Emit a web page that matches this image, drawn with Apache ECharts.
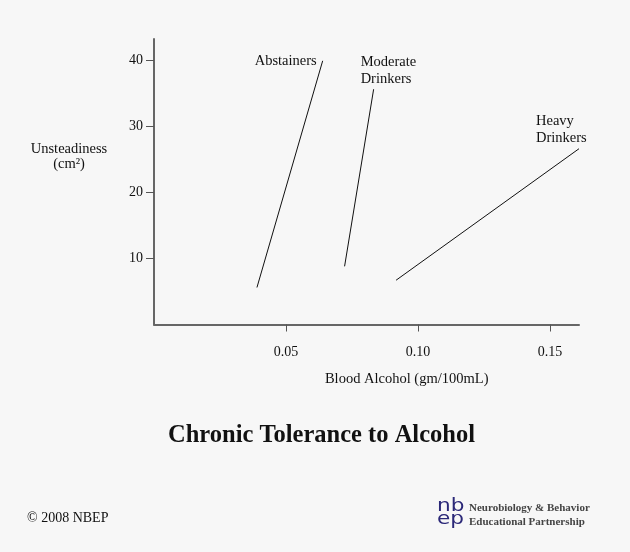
<!DOCTYPE html>
<html>
<head>
<meta charset="utf-8">
<script src="https://cdn.jsdelivr.net/npm/echarts@6/dist/echarts.min.js"></script>
<style>
html,body{margin:0;padding:0;background:#f7f7f7;}
#chart{width:630px;height:552px;}
</style>
</head>
<body>
<div id="chart"></div>
<script>
// Data
const seriesNames = ['Abstainers', 'Moderate\nDrinkers', 'Heavy\nDrinkers'];
const abstainers = [[0.0390, 5.6], [0.0639, 39.9]];
const moderate = [[0.0722, 8.8], [0.0832, 35.6]];
const heavy = [[0.0917, 6.7], [0.1610, 26.6]];
const xTicks = [0.05, 0.10, 0.15];
const yTicks = [10, 20, 30, 40];
const xTickLabels = ['0.05', '0.10', '0.15'];
const yTickLabels = ['10', '20', '30', '40'];
const titleText = 'Chronic Tolerance to Alcohol';
const xAxisTitle = 'Blood Alcohol (gm/100mL)';
const yAxisTitle = ['Unsteadiness', '(cm²)'];

const serif = '"Liberation Serif", "Times New Roman", serif';
const chart = echarts.init(document.getElementById('chart'));

function mkSeries(name, data, labelCfg) {
  return {
    type: 'line',
    name: name,
    clip: false,
    silent: true,
    symbol: 'circle',
    symbolSize: 0.01,
    itemStyle: { color: 'rgba(0,0,0,0)' },
    lineStyle: { color: '#111', width: 1 },
    emphasis: { disabled: true },
    animation: false,
    data: data.map((d, i) => {
      const item = { value: d };
      if (i === data.length - 1) {
        item.label = Object.assign({
          show: true,
          formatter: name,
          color: '#111',
          fontFamily: serif,
          fontSize: 14.5,
          lineHeight: 17
        }, labelCfg);
      } else {
        item.label = { show: false };
      }
      return item;
    })
  };
}

const option = {
  backgroundColor: '#f7f7f7',
  animation: false,
  grid: { left: 154, right: 51, top: 39, bottom: 227.5, containLabel: false },
  xAxis: {
    type: 'value',
    min: 0,
    max: 0.161,
    axisLine: { show: true, lineStyle: { color: '#666', width: 2 } },
    axisTick: { show: true, length: 7, customValues: xTicks, lineStyle: { color: '#555', width: 1 } },
    axisLabel: {
      customValues: xTicks,
      formatter: v => xTickLabels[xTicks.findIndex(t => Math.abs(t - v) < 1e-9)] || '',
      margin: 21,
      color: '#111', fontFamily: serif, fontSize: 14
    },
    splitLine: { show: false }
  },
  yAxis: {
    type: 'value',
    min: 0,
    max: 43.2,
    axisLine: { show: true, lineStyle: { color: '#666', width: 2 } },
    axisTick: { show: true, length: 8, customValues: yTicks, lineStyle: { color: '#555', width: 1 } },
    axisLabel: {
      customValues: yTicks,
      formatter: v => yTickLabels[yTicks.findIndex(t => Math.abs(t - v) < 1e-9)] || '',
      margin: 11,
      color: '#111', fontFamily: serif, fontSize: 14
    },
    splitLine: { show: false }
  },
  series: [
    mkSeries(seriesNames[0], abstainers, { position: 'left', distance: 6 }),
    mkSeries(seriesNames[1], moderate, { position: 'top', align: 'left', offset: [-13, 0], distance: 2 }),
    mkSeries(seriesNames[2], heavy, { position: 'top', align: 'left', offset: [-43, 0], distance: 2 })
  ],
  graphic: [
    { type: 'text', x: 321.5, y: 435.5, style: { text: titleText, fontFamily: serif, fontWeight: 'bold', fontSize: 24.5, fill: '#111', textAlign: 'center', textVerticalAlign: 'middle' } },
    { type: 'text', x: 406.7, y: 379, style: { text: xAxisTitle, fontFamily: serif, fontSize: 14.5, fill: '#111', textAlign: 'center', textVerticalAlign: 'middle' } },
    { type: 'text', x: 69, y: 149.5, style: { text: yAxisTitle[0], fontFamily: serif, fontSize: 14.5, fill: '#111', textAlign: 'center', textVerticalAlign: 'middle' } },
    { type: 'text', x: 69, y: 164, style: { text: yAxisTitle[1], fontFamily: serif, fontSize: 14.5, fill: '#111', textAlign: 'center', textVerticalAlign: 'middle' } },
    { type: 'text', x: 27, y: 518, style: { text: '© 2008 NBEP', fontFamily: serif, fontSize: 14, fill: '#111', textAlign: 'left', textVerticalAlign: 'middle' } },
    { type: 'text', x: 437, y: 506, scaleX: 1.2, style: { text: 'nb', fontFamily: '"DejaVu Sans", sans-serif', fontSize: 18, fill: '#2b2878', textAlign: 'left', textVerticalAlign: 'middle' } },
    { type: 'text', x: 437, y: 519, scaleX: 1.2, style: { text: 'ep', fontFamily: '"DejaVu Sans", sans-serif', fontSize: 18, fill: '#2b2878', textAlign: 'left', textVerticalAlign: 'middle' } },
    { type: 'text', x: 469, y: 508, style: { text: 'Neurobiology & Behavior', fontFamily: serif, fontWeight: 'bold', fontSize: 11, fill: '#444', textAlign: 'left', textVerticalAlign: 'middle' } },
    { type: 'text', x: 469, y: 522, style: { text: 'Educational Partnership', fontFamily: serif, fontWeight: 'bold', fontSize: 11, fill: '#444', textAlign: 'left', textVerticalAlign: 'middle' } }
  ]
};
chart.setOption(option);
</script>
</body>
</html>
